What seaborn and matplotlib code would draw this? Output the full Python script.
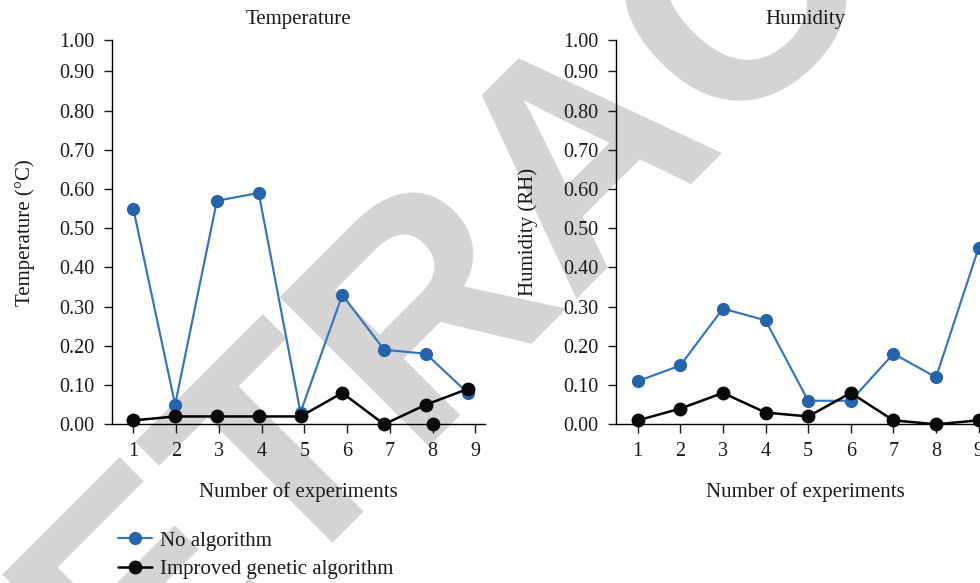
import numpy as np
import pandas as pd
import matplotlib
matplotlib.use("Agg")
import matplotlib.pyplot as plt
import seaborn as sns

# ---------------- data ----------------
experiments = [1, 2, 3, 4, 5, 6, 7, 8, 9]
temp_no_algorithm = [0.55, 0.05, 0.57, 0.59, 0.03, 0.33, 0.19, 0.18, 0.08]
temp_improved = [0.01, 0.02, 0.02, 0.02, 0.02, 0.08, 0.00, 0.05, 0.09]
temp_extra_experiment = [8]
temp_extra_value = [0.00]
hum_no_algorithm = [0.11, 0.15, 0.295, 0.265, 0.06, 0.06, 0.18, 0.12, 0.45]
hum_improved = [0.01, 0.04, 0.08, 0.03, 0.02, 0.08, 0.01, 0.00, 0.01]
y_tick_labels = ["0.00", "0.10", "0.20", "0.30", "0.40", "0.50",
                 "0.60", "0.70", "0.80", "0.90", "1.00"]
x_tick_labels = ["1", "2", "3", "4", "5", "6", "7", "8", "9"]
series_names = ["No algorithm", "Improved genetic algorithm"]
panel_titles = ["Temperature", "Humidity"]
y_labels = ["Temperature (°C)", "Humidity (RH)"]
x_label = "Number of experiments"
watermark_text = "RETRACTED"

# ---------------- style ----------------
sns.set_theme(style="ticks")
plt.rcParams["font.family"] = ["Liberation Serif", "DejaVu Serif"]
plt.rcParams["axes.linewidth"] = 1.0

BLUE_LINE = "#3474bd"
BLUE_MARK = "#2563ad"
BLACK = "#000000"
TEXT = "#1a1a1a"
FS = 15
TFS = 14.5

fig = plt.figure(figsize=(9.8, 5.83), dpi=100)
fig.patch.set_facecolor("white")

# watermark behind everything
fig.text(589 / 980, 1 - 155 / 583, watermark_text, rotation=45, rotation_mode="anchor",
         ha="center", va="center", fontsize=221, fontweight="bold",
         family="Liberation Sans", color="#d4d4d4", zorder=-10)

y_top = 0.98
y_tick_pos = [i * 0.1 for i in range(10)] + [y_top]

ax1 = fig.add_axes([112 / 980, 1 - 424.3 / 583, (485 - 112) / 980, (424.3 - 40) / 583])
ax2 = fig.add_axes([616 / 980, 1 - 424.3 / 583, (994 - 616) / 980, (424.3 - 40) / 583])

temp_tick_pos = [1 + (e - 1) * 1.0227 for e in experiments]
hum_tick_pos = experiments

panels = [
    (ax1, temp_no_algorithm, temp_improved, temp_tick_pos, (0.49, 9.414)),
    (ax2, hum_no_algorithm, hum_improved, hum_tick_pos, (0.491, 9.36)),
]

for i, (ax, no_alg, impr, tpos, xl) in enumerate(panels):
    ax.set_facecolor("none")
    sns.lineplot(x=experiments, y=no_alg, ax=ax, color=BLUE_LINE, linewidth=1.55,
                 marker="o", markersize=9.5, markerfacecolor=BLUE_MARK,
                 markeredgewidth=0, label=series_names[0], clip_on=False,
                 legend=False, zorder=3)
    sns.lineplot(x=experiments, y=impr, ax=ax, color=BLACK, linewidth=1.8,
                 marker="o", markersize=10, markerfacecolor="#0a0a0a",
                 markeredgewidth=0, label=series_names[1], clip_on=False,
                 legend=False, zorder=4)
    ax.set_xlim(*xl)
    ax.set_ylim(0, y_top)
    ax.set_xticks(tpos)
    ax.set_xticklabels(x_tick_labels)
    ax.set_yticks(y_tick_pos)
    ax.set_yticklabels(y_tick_labels)
    ax.tick_params(axis="y", length=6, width=1.0, pad=6.5, labelsize=TFS,
                   colors=TEXT, direction="out")
    ax.tick_params(axis="x", length=6.5, width=1.0, pad=6, labelsize=TFS,
                   colors=TEXT, direction="out")
    for s in ["top", "right"]:
        ax.spines[s].set_visible(False)
    for s in ["left", "bottom"]:
        ax.spines[s].set_color(BLACK)
        ax.spines[s].set_linewidth(1.0)
    ax.set_title(panel_titles[i], fontsize=FS, color=TEXT, pad=11.5)
    ax.set_xlabel(x_label, fontsize=FS, color=TEXT, labelpad=15.5)
    ax.set_ylabel(y_labels[i], fontsize=FS, color=TEXT,
                  labelpad=17.5 if i == 0 else 18.5)

# stray marker in temperature panel
sns.scatterplot(x=[temp_tick_pos[temp_extra_experiment[0] - 1]], y=temp_extra_value,
                ax=ax1, color="#0a0a0a", s=100, linewidth=0, clip_on=False,
                zorder=5, legend=False)

handles = ax1.get_lines()[:2]
fig.legend(handles, series_names, loc="upper left",
           bbox_to_anchor=(118 / 980, 1 - 531 / 583), frameon=False,
           fontsize=FS, handlelength=1.65, handletextpad=0.35,
           labelspacing=0.42, borderpad=0, borderaxespad=0,
           labelcolor=TEXT)

fig.savefig("out.png", dpi=100)
